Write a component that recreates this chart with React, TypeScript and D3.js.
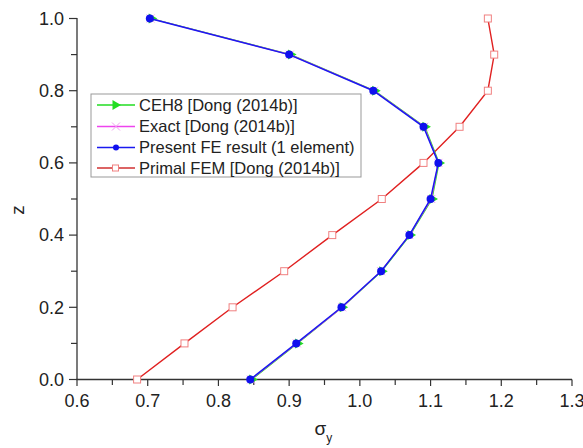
import React from "react";
import * as d3 from "d3";

const zValues = [0.0, 0.1, 0.2, 0.3, 0.4, 0.5, 0.6, 0.7, 0.8, 0.9, 1.0];
const presentFE = [0.845, 0.91, 0.974, 1.03, 1.07, 1.1, 1.111, 1.09, 1.019, 0.9, 0.703];
const ceh8 = [0.847, 0.912, 0.975, 1.031, 1.071, 1.102, 1.112, 1.092, 1.021, 0.902, 0.705];
const exact = [0.846, 0.911, 0.975, 1.03, 1.07, 1.101, 1.111, 1.091, 1.02, 0.901, 0.704];
const primalFEM = [0.685, 0.752, 0.82, 0.893, 0.961, 1.031, 1.09, 1.141, 1.181, 1.19, 1.181];
const xTicks = [0.6, 0.7, 0.8, 0.9, 1.0, 1.1, 1.2, 1.3];
const yTicks = [0.0, 0.2, 0.4, 0.6, 0.8, 1.0];
const legendLabels = [
  "CEH8 [Dong (2014b)]",
  "Exact [Dong (2014b)]",
  "Present FE result (1 element)",
  "Primal FEM [Dong (2014b)]",
];

const W = 583;
const H = 448;
const font = "Liberation Sans, Arial, sans-serif";

export default function App() {
  const x = d3.scaleLinear().domain([0.6, 1.3]).range([77, 572]);
  const y = d3.scaleLinear().domain([0, 1]).range([379.5, 18.5]);
  const line = (xs: number[]) =>
    d3.line<number>().x((d) => x(d)).y((_, i) => y(zValues[i]))(xs) || "";

  const xMinor = d3.range(0.65, 1.3, 0.1);
  const yMinor = d3.range(0.1, 1.0, 0.2);

  const tri = (cx: number, cy: number, s = 5) =>
    `M${cx - s * 0.7},${cy - s} L${cx + s},${cy} L${cx - s * 0.7},${cy + s} Z`;

  const legX = 91, legY = 94;
  const rowY = [105, 126.5, 147.5, 168];

  return (
    <svg width={W} height={H} style={{ position: "absolute", left: 0, top: 0, background: "#fff" }}>
      <rect x={0} y={0} width={W} height={H} fill="#fff" />
      {/* axes */}
      <line x1={77} x2={77} y1={18} y2={380} stroke="#333" strokeWidth={1.3} />
      <line x1={76.5} x2={572} y1={379.5} y2={379.5} stroke="#333" strokeWidth={1.3} />
      {yTicks.map((t) => (
        <g key={"y" + t}>
          <line x1={69} x2={77} y1={y(t)} y2={y(t)} stroke="#333" strokeWidth={1.2} />
          <text x={64} y={y(t) + 6.3} textAnchor="end" fontFamily={font} fontSize={18} fill="#222">
            {t.toFixed(1)}
          </text>
        </g>
      ))}
      {yMinor.map((t) => (
        <line key={"ym" + t} x1={71} x2={77} y1={y(t)} y2={y(t)} stroke="#333" strokeWidth={1.2} />
      ))}
      {xTicks.map((t) => (
        <g key={"x" + t}>
          <line x1={x(t)} x2={x(t)} y1={379.5} y2={386} stroke="#333" strokeWidth={1.2} />
          <text x={x(t)} y={406.5} textAnchor="middle" fontFamily={font} fontSize={18} fill="#222">
            {t.toFixed(1)}
          </text>
        </g>
      ))}
      {xMinor.map((t) => (
        <line key={"xm" + t} x1={x(t)} x2={x(t)} y1={379.5} y2={385} stroke="#333" strokeWidth={1.2} />
      ))}
      <text
        transform={`translate(24,210) rotate(-90)`}
        textAnchor="middle"
        fontFamily={font}
        fontSize={19}
        fill="#222"
      >
        z
      </text>
      <text x={314.5} y={435} fontFamily={font} fontSize={19} fill="#222">
        σ<tspan fontSize={12} dy={7}>y</tspan>
      </text>

      {/* Primal FEM */}
      <path d={line(primalFEM)} fill="none" stroke="#e02020" strokeWidth={1.4} />
      {primalFEM.map((v, i) => (
        <rect key={"p" + i} x={x(v) - 3.5} y={y(zValues[i]) - 3.5} width={7} height={7} fill="#fff" stroke="#f08080" strokeWidth={1} />
      ))}
      {/* CEH8 */}
      <path d={line(ceh8)} fill="none" stroke="#22dd22" strokeWidth={1.2} />
      {ceh8.map((v, i) => (
        <path key={"c" + i} d={tri(x(v) + 1, y(zValues[i]))} fill="#22dd22" />
      ))}
      {/* Exact */}
      <path d={line(exact)} fill="none" stroke="#ee44ee" strokeWidth={1.2} />
      {exact.map((v, i) => {
        const cx = x(v), cy = y(zValues[i]);
        return (
          <path key={"e" + i} d={`M${cx - 4},${cy - 4}L${cx + 4},${cy + 4}M${cx - 4},${cy + 4}L${cx + 4},${cy - 4}`} stroke="#f0a0f0" strokeWidth={1} />
        );
      })}
      {/* Present FE */}
      <path d={line(presentFE)} fill="none" stroke="#1a1af0" strokeWidth={1.5} />
      {presentFE.map((v, i) => (
        <circle key={"f" + i} cx={x(v)} cy={y(zValues[i])} r={4} fill="#1010ee" />
      ))}

      {/* legend */}
      <rect x={legX} y={legY} width={270} height={83} fill="#fff" stroke="#999" strokeWidth={1} />
      {legendLabels.map((lab, i) => {
        const cy = rowY[i];
        const colors = ["#22dd22", "#ee44ee", "#1a1af0", "#d03030"];
        return (
          <g key={lab}>
            <line x1={97} x2={135} y1={cy} y2={cy} stroke={colors[i]} strokeWidth={1.4} />
            {i === 0 && <path d={tri(116, cy)} fill="#22dd22" />}
            {i === 1 && (
              <path d={`M112,${cy - 4}L120,${cy + 4}M112,${cy + 4}L120,${cy - 4}`} stroke="#f0a0f0" strokeWidth={1} />
            )}
            {i === 2 && <circle cx={116} cy={cy} r={3} fill="#1010ee" />}
            {i === 3 && <rect x={112.5} y={cy - 3} width={6} height={6} fill="#fff" stroke="#f08080" />}
            <text x={139} y={cy + 5.5} fontFamily={font} fontSize={16.5} fill="#222">
              {lab}
            </text>
          </g>
        );
      })}
    </svg>
  );
}
